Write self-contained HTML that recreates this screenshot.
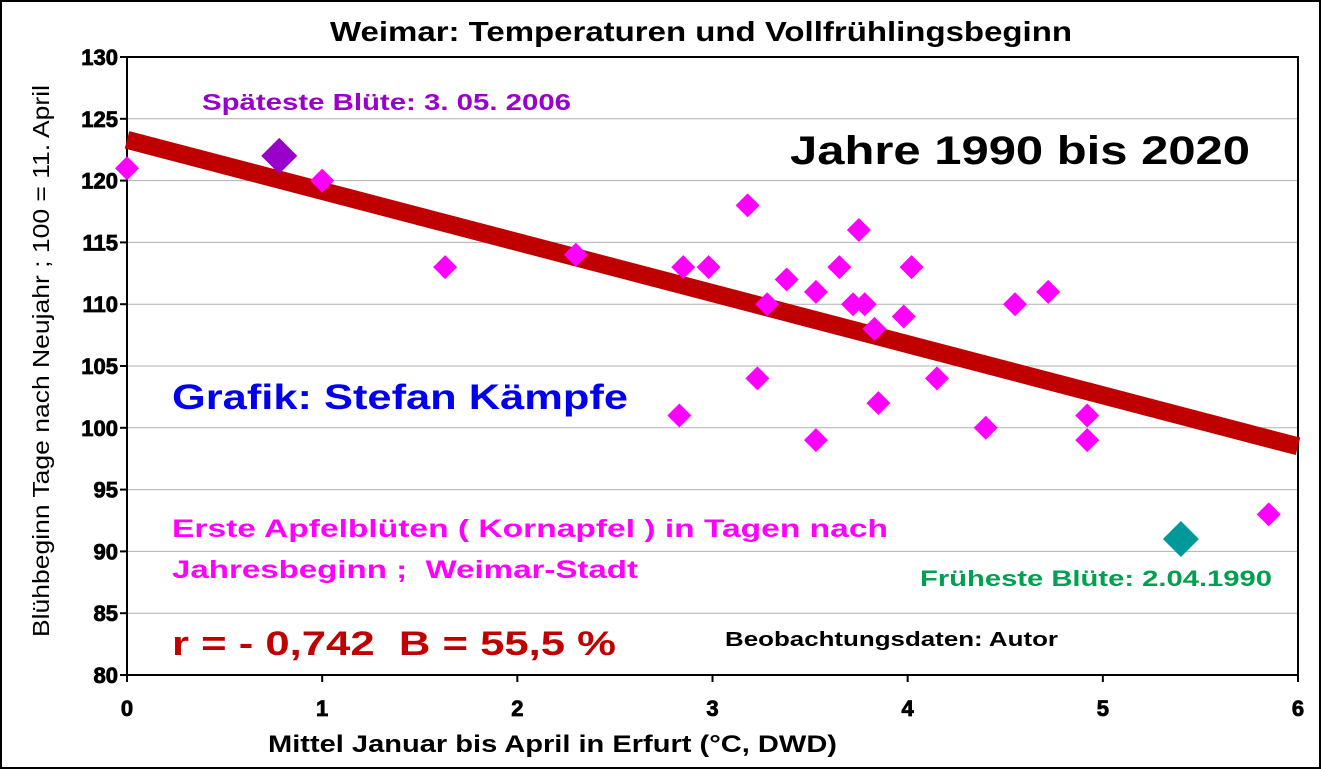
<!DOCTYPE html>
<html><head><meta charset="utf-8"><style>
body{margin:0;background:#fff}
svg{display:block;font-family:"Liberation Sans",Arial,sans-serif;font-weight:bold}
</style></head><body>
<svg width="1321" height="769" viewBox="0 0 1321 769">
<rect x="1" y="1" width="1319" height="767" fill="#fff" stroke="#000" stroke-width="2"/>
<text x="330" y="41" font-size="28" textLength="742" lengthAdjust="spacingAndGlyphs">Weimar: Temperaturen und Vollfrühlingsbeginn</text>
<g id="grid"></g>
<g id="axes"></g>
<g id="marks"></g>
<text x="202" y="110" font-size="23" fill="#9900cc" textLength="369" lengthAdjust="spacingAndGlyphs">Späteste Blüte: 3. 05. 2006</text>
<text x="790" y="164" font-size="40" textLength="460" lengthAdjust="spacingAndGlyphs">Jahre 1990 bis 2020</text>
<text x="172" y="409" font-size="35" fill="#0000ee" textLength="456" lengthAdjust="spacingAndGlyphs">Grafik: Stefan Kämpfe</text>
<text x="172" y="537" font-size="25" fill="#ff00ff" textLength="716" lengthAdjust="spacingAndGlyphs">Erste Apfelblüten ( Kornapfel ) in Tagen nach</text>
<text x="172" y="578" font-size="25" fill="#ff00ff" textLength="466" lengthAdjust="spacingAndGlyphs">Jahresbeginn ;&#160; Weimar-Stadt</text>
<text x="920" y="586" font-size="22" fill="#00a050" textLength="352" lengthAdjust="spacingAndGlyphs">Früheste Blüte: 2.04.1990</text>
<text x="172" y="655" font-size="34" fill="#c00000" textLength="444" lengthAdjust="spacingAndGlyphs">r = - 0,742&#160; B = 55,5 %</text>
<text x="725" y="646" font-size="20" textLength="333" lengthAdjust="spacingAndGlyphs">Beobachtungsdaten: Autor</text>
<text x="268" y="752" font-size="24" textLength="569" lengthAdjust="spacingAndGlyphs">Mittel Januar bis April in Erfurt (°C, DWD)</text>
<text transform="translate(49,637) rotate(-90)" font-size="23" font-weight="normal" textLength="552" lengthAdjust="spacingAndGlyphs">Blühbeginn Tage nach Neujahr ; 100 = 11. April</text>
</svg>
<script>
const xValues=[0,0.78,1.0,1.63,2.3,2.83,2.85,2.98,3.18,3.23,3.28,3.38,3.53,3.53,3.65,3.72,3.75,3.78,3.83,3.85,3.98,4.02,4.15,4.4,4.55,4.72,4.92,4.92,5.4,5.85];
const yValues=[121,122,120,113,114,101,113,113,118,104,110,112,111,99,113,110,116,110,108,102,109,113,104,100,110,111,101,99,91,93];
const highlight=[0,1,0,0,0,0,0,0,0,0,0,0,0,0,0,0,0,0,0,0,0,0,0,0,0,0,0,0,2,0];
const xTicks=[0,1,2,3,4,5,6];
const yTicks=[80,85,90,95,100,105,110,115,120,125,130];
const trend=[123.3,98.5];
const NS='http://www.w3.org/2000/svg';
const L=127,R=1298,T=57,B=675;
const sx=v=>L+(v-0)/6*(R-L), sy=v=>B-(v-80)/50*(B-T);
function mk(p,tag,a){const e=document.createElementNS(NS,tag);for(const k in a)e.setAttribute(k,a[k]);p.appendChild(e);return e;}
const grid=document.getElementById('grid'),axes=document.getElementById('axes'),marks=document.getElementById('marks');
yTicks.forEach(t=>{
 if(t>80&&t<130){const g=mk(grid,'line',{x1:L,x2:R,y1:sy(t),y2:sy(t),stroke:'#b0b0b0','stroke-width':1});
 
 }
 const tk=mk(axes,'line',{x1:L-7,x2:L,y1:sy(t),y2:sy(t),stroke:'#000','stroke-width':2});
 
 
 const tx=mk(axes,'text',{x:L-9,y:sy(t)+8,'font-size':22,'text-anchor':'end',stroke:'#000','stroke-width':0.8});tx.textContent=t;
 
 
});
xTicks.forEach(t=>{
 const tk=mk(axes,'line',{x1:sx(t),x2:sx(t),y1:B,y2:B+7,stroke:'#000','stroke-width':2});
 
 
 const tx=mk(axes,'text',{x:sx(t),y:B+41,'font-size':22,'text-anchor':'middle',stroke:'#000','stroke-width':0.8});tx.textContent=t;
 
 
});
const box=mk(axes,'rect',{x:L,y:T,width:R-L,height:B-T,fill:'none',stroke:'#000','stroke-width':2});


const tl=mk(marks,'line',{x1:sx(0),y1:sy(trend[0]),x2:sx(6),y2:sy(trend[1]),stroke:'#c00000','stroke-width':18});


xValues.forEach((x,i)=>{
 const h=highlight[i],s=h?18:12,cx=sx(x),cy=sy(yValues[i]);
 const col=h==1?'#9900cc':h==2?'#009999':'#ff00ff';
 const p=mk(marks,'polygon',{points:`${cx},${cy-s} ${cx+s},${cy} ${cx},${cy+s} ${cx-s},${cy}`,fill:col});
 
 
});
</script>
</body></html>
